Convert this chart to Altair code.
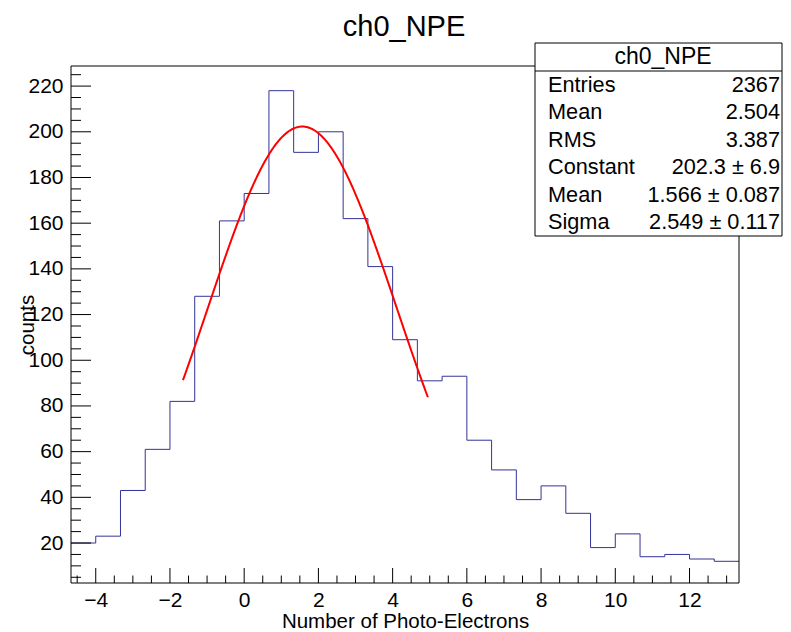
import altair as alt
import pandas as pd
import numpy as np

# ---------------- data ----------------
BIN_LOW = -14 / 3          # first bin edge
BIN_WIDTH = 2 / 3
COUNTS = [20, 23, 43, 61, 82, 128, 161, 173, 218, 191, 200, 162, 141, 109,
          91, 93, 65, 52, 39, 45, 33, 18, 24, 14, 15, 13, 12]

X_DOMAIN = [-14 / 3, 40 / 3]
Y_DOMAIN = [2.5, 228.8]

X_MAJOR = [-4, -2, 0, 2, 4, 6, 8, 10, 12]
X_MINOR = [v for v in np.arange(-4.5, 13.01, 0.5) if v not in X_MAJOR]
Y_MAJOR = [20, 40, 60, 80, 100, 120, 140, 160, 180, 200, 220]
Y_MINOR = [v for v in range(5, 226, 5) if v not in Y_MAJOR]

FIT_CONSTANT = 202.3
FIT_MEAN = 1.566
FIT_SIGMA = 2.549
FIT_RANGE = [-1.65, 4.96]

STAT_NAMES = ["Entries", "Mean", "RMS", "Constant", "Mean", "Sigma"]
STAT_VALUES = ["2367", "2.504", "3.387", "202.3 \u00b1 6.9",
               "1.566 \u00b1 0.087", "2.549 \u00b1 0.117"]

TITLE = "ch0_NPE"
X_TITLE = "Number of Photo-Electrons"
Y_TITLE = "counts"

# ---------------- layout ----------------
W, H = 668, 517
FONT = "Liberation Sans"
HIST_COLOR = "#333399"

edges = [BIN_LOW + i * BIN_WIDTH for i in range(len(COUNTS) + 1)]
hist_df = pd.DataFrame({"edge": edges, "count": COUNTS + [COUNTS[-1]]})

xs = alt.Scale(domain=X_DOMAIN, nice=False, zero=False)
ys = alt.Scale(domain=Y_DOMAIN, nice=False, zero=False)

x_axis = alt.Axis(values=X_MAJOR, ticks=False, domain=False, grid=False,
                  labelFont=FONT, labelFontSize=21, labelColor="black",
                  labelPadding=6, labelFlush=False, labelOverlap=False,
                  title=X_TITLE, titleFont=FONT, titleFontSize=20.5,
                  titleFontWeight="normal", titleColor="black",
                  titleY=44, titleBaseline="alphabetic")
y_axis = alt.Axis(values=Y_MAJOR, ticks=False, domain=False, grid=False,
                  labelFont=FONT, labelFontSize=21, labelColor="black",
                  labelPadding=8, labelFlush=False, labelOverlap=False,
                  title=Y_TITLE, titleFont=FONT, titleFontSize=20.5,
                  titleFontWeight="normal", titleColor="black",
                  titleX=-38, titleY=H / 2, titleAngle=-90,
                  titleAlign="center", titleBaseline="alphabetic")

one = pd.DataFrame({"a": [0]})

frame = alt.Chart(one).mark_rect(fillOpacity=0, stroke="black", strokeWidth=1).encode(
    x=alt.value(0), x2=alt.value(W), y=alt.value(0), y2=alt.value(H))


def xticks(vals, length):
    return alt.Chart(pd.DataFrame({"v": vals})).mark_rule(color="black", strokeWidth=1).encode(
        x=alt.X("v:Q", scale=xs, axis=x_axis), y=alt.value(H), y2=alt.value(H - length))


def yticks(vals, length):
    return alt.Chart(pd.DataFrame({"v": vals})).mark_rule(color="black", strokeWidth=1).encode(
        y=alt.Y("v:Q", scale=ys, axis=y_axis), x=alt.value(0), x2=alt.value(length))


hist = alt.Chart(hist_df).mark_line(interpolate="step-after", color=HIST_COLOR,
                                    strokeWidth=1).encode(
    x=alt.X("edge:Q", scale=xs, axis=x_axis),
    y=alt.Y("count:Q", scale=ys, axis=y_axis))

fit = alt.Chart(alt.sequence(FIT_RANGE[0], FIT_RANGE[1] + 0.001, 0.02, as_="x")).transform_calculate(
    y=f"{FIT_CONSTANT}*exp(-0.5*pow((datum.x-{FIT_MEAN})/{FIT_SIGMA},2))"
).mark_line(color="#ff0000", strokeWidth=2).encode(
    x=alt.X("x:Q", scale=xs, axis=x_axis), y=alt.Y("y:Q", scale=ys, axis=y_axis))

title = alt.Chart(one).mark_text(font=FONT, fontSize=29, align="center",
                                 baseline="alphabetic", color="black").encode(
    x=alt.value(W / 2 - 1), y=alt.value(-30), text=alt.value(TITLE))

BOX_L, BOX_R, BOX_T, BOX_B = 464, 711, -23, 170
box = alt.Chart(one).mark_rect(fill="white", stroke="black", strokeWidth=1).encode(
    x=alt.value(BOX_L), x2=alt.value(BOX_R), y=alt.value(BOX_T), y2=alt.value(BOX_B))
box_line = alt.Chart(one).mark_rule(color="black", strokeWidth=1).encode(
    x=alt.value(BOX_L), x2=alt.value(BOX_R), y=alt.value(5))
box_head = alt.Chart(one).mark_text(font=FONT, fontSize=23, align="center",
                                    baseline="middle", color="black").encode(
    x=alt.value(592), y=alt.value(-9), text=alt.value(TITLE))

stats_df = pd.DataFrame({"name": STAT_NAMES, "val": STAT_VALUES,
                         "row": list(range(len(STAT_NAMES)))})
stats_base = alt.Chart(stats_df).transform_calculate(ypix="18.75 + 27.5*datum.row")
stat_names = stats_base.mark_text(font=FONT, fontSize=21.7, align="left",
                                  baseline="middle", color="black").encode(
    x=alt.value(BOX_L + 13), y=alt.Y("ypix:Q", scale=None), text="name:N")
stat_vals = stats_base.mark_text(font=FONT, fontSize=21.7, align="right",
                                 baseline="middle", color="black").encode(
    x=alt.value(BOX_R - 2), y=alt.Y("ypix:Q", scale=None), text="val:N")

chart = alt.layer(
    hist, frame, xticks(X_MAJOR, 15), xticks(X_MINOR, 7.5), yticks(Y_MAJOR, 20),
    yticks(Y_MINOR, 10), fit, title, box, box_line, box_head,
    stat_names, stat_vals
).properties(
    width=W, height=H,
    autosize=alt.AutoSizeParams(type="none"),
    padding={"left": 63, "top": 58, "right": 44, "bottom": 50},
    background="white",
).configure_view(stroke=None)

chart.save("out.html", embed_options={"renderer": "svg", "actions": False})
